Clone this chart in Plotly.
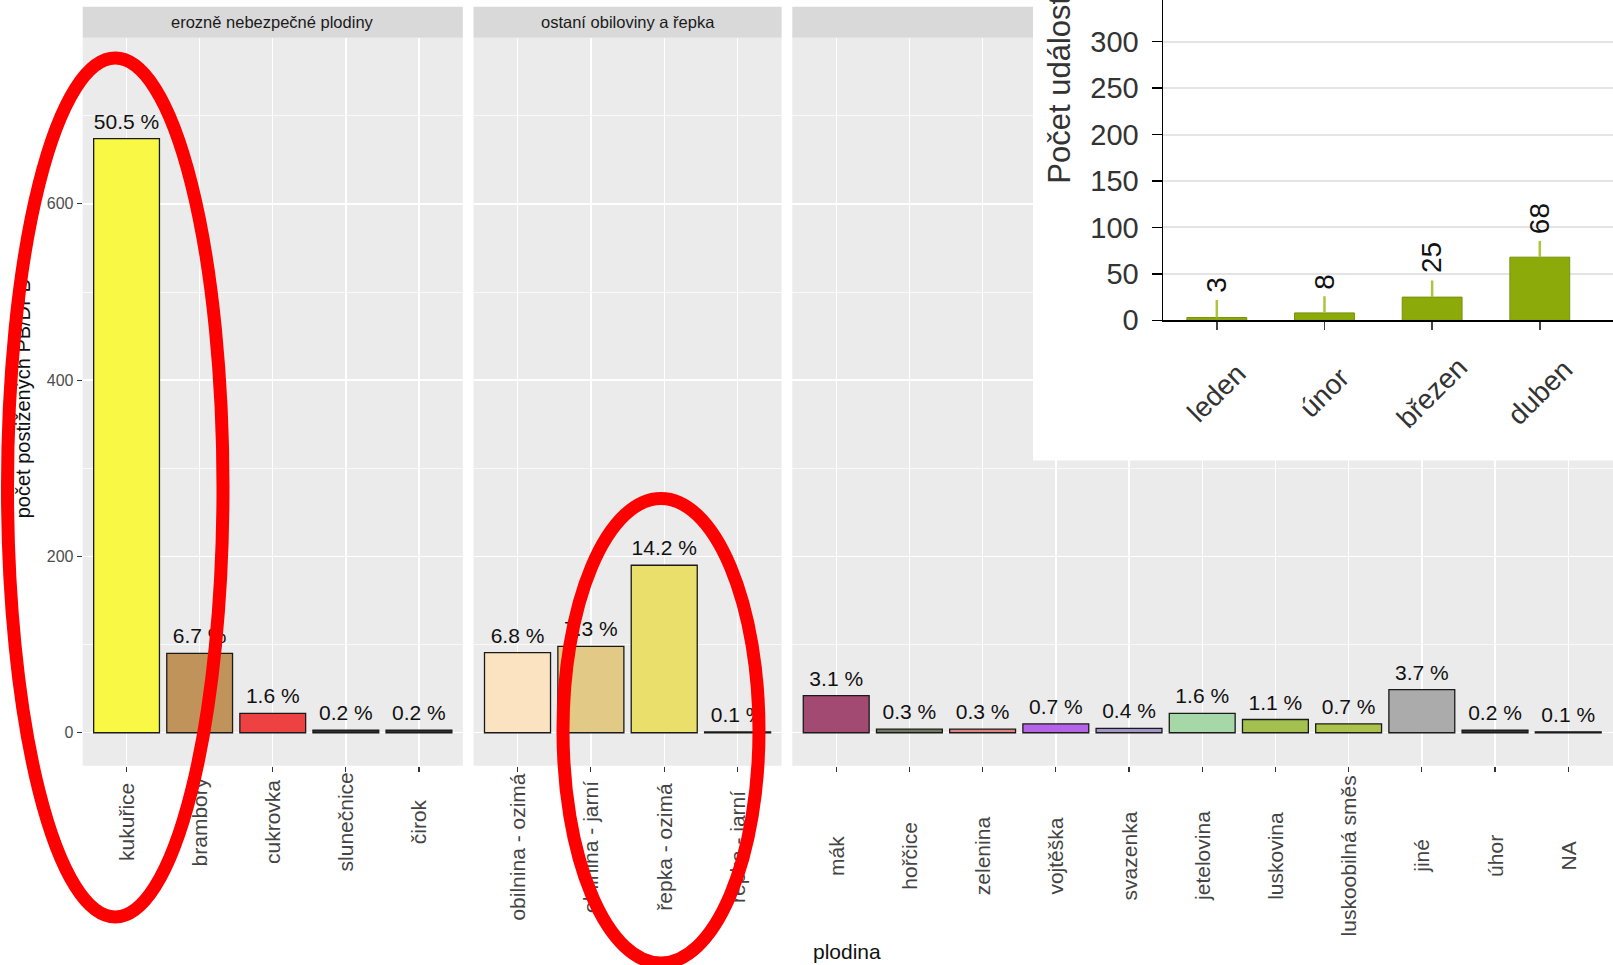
import plotly.graph_objects as go

W, H = 1613, 965          # reference picture size (pixels)
FIG_H = 982               # page capture height observed; all positions are paper fractions
FONT = "Liberation Sans, Arial, sans-serif"

# ---------------- data: main faceted chart ----------------
facet_titles = ["erozně nebezpečné plodiny", "ostaní obiloviny a řepka"]

p1_cats = ["kukuřice", "brambory", "cukrovka", "slunečnice", "čirok"]
p1_vals = [674, 90, 22, 3, 3]
p1_pct = ["50.5 %", "6.7 %", "1.6 %", "0.2 %", "0.2 %"]
p1_cols = ["#F9F845", "#BF935A", "#EE4242", "#2E2E2E", "#2E2E2E"]

p2_cats = ["obilnina - ozimá", "obilnina - jarní", "řepka - ozimá", "řepka - jarní"]
p2_vals = [91, 98, 190, 1]
p2_pct = ["6.8 %", "7.3 %", "14.2 %", "0.1 %"]
p2_cols = ["#FBE3C2", "#E2CA86", "#EADF6A", "#F0E68C"]

p3_cats = ["mák", "hořčice", "zelenina", "vojtěška", "svazenka", "jetelovina",
           "luskovina", "luskoobilná směs", "jiné", "úhor", "NA"]
p3_vals = [42, 4, 4, 10, 5, 22, 15, 10, 49, 3, 1]
p3_pct = ["3.1 %", "0.3 %", "0.3 %", "0.7 %", "0.4 %", "1.6 %",
          "1.1 %", "0.7 %", "3.7 %", "0.2 %", "0.1 %"]
p3_cols = ["#A34A72", "#6E7A5E", "#E08282", "#B563E8", "#A395C9", "#A5D8A6",
           "#A4C150", "#ADC24A", "#ABABAB", "#333333", "#555555"]

y_ticks = [0, 200, 400, 600]
y_title = "počet postižených PB/DPB"
x_title = "plodina"

# ---------------- data: inset chart ----------------
months = ["leden", "únor", "březen", "duben", "květen"]
month_counts = [3, 8, 25, 68]
month_err = [19, 18, 18, 17.5]
inset_title = "Počet událostí"
inset_ticks = [0, 50, 100, 150, 200, 250, 300, 350]


def px(x):
    return x / W


def py(y):
    return 1 - y / H


# main panel geometry (reference pixels)
PANEL_TOP, PANEL_BOT = 37.7, 765.0
STRIP_TOP = 6.7
Y_RANGE = [-37.5, 788.5]
panels_x = [(82.7, 462.8), (473.5, 781.6), (792.3, 1613.0)]
unit = 73.2


def py_to_val(p):
    return Y_RANGE[0] + (PANEL_BOT - p) / (PANEL_BOT - PANEL_TOP) * (Y_RANGE[1] - Y_RANGE[0])


panels = [
    dict(cats=p1_cats, vals=p1_vals, pct=p1_pct, cols=p1_cols, xa="x", lab_c=821),
    dict(cats=p2_cats, vals=p2_vals, pct=p2_pct, cols=p2_cols, xa="x2", lab_c=846),
    dict(cats=p3_cats, vals=p3_vals, pct=p3_pct, cols=p3_cols, xa="x3", lab_c=855),
]

fig = go.Figure()
LBL_H = 250
for p in panels:
    n = len(p["cats"])
    fig.add_trace(go.Bar(
        x=p["cats"], y=p["vals"],
        marker=dict(color=p["cols"], line=dict(color="#1a1a1a", width=1.3)),
        width=0.9, xaxis=p["xa"], yaxis="y", hoverinfo="skip", showlegend=False))
    # percentage labels above bars
    fig.add_trace(go.Scatter(
        x=p["cats"], y=p["vals"], text=p["pct"], mode="markers+text",
        textposition="top center", cliponaxis=False,
        marker=dict(size=6, opacity=0),
        textfont=dict(size=21, color="#111111", family=FONT),
        xaxis=p["xa"], yaxis="y", hoverinfo="skip", showlegend=False))
    # category labels (centred vertical text under each panel)
    c = py_to_val(p["lab_c"])
    fig.add_trace(go.Bar(
        x=p["cats"], y=[LBL_H] * n, base=[c - LBL_H / 2] * n, text=p["cats"],
        textposition="inside", insidetextanchor="middle", textangle=-90,
        constraintext="none", cliponaxis=False,
        insidetextfont=dict(size=21, color="#444444", family=FONT),
        marker=dict(color="rgba(0,0,0,0)", line=dict(width=0)),
        width=0.9, xaxis=p["xa"], yaxis="y", hoverinfo="skip", showlegend=False))

# dummy trace for the y-title axis
fig.add_trace(go.Scatter(x=[p1_cats[0]], y=[0], xaxis="x", yaxis="y5", mode="markers",
                         marker=dict(opacity=0, size=1), hoverinfo="skip", showlegend=False))

# inset bars
fig.add_trace(go.Bar(
    x=months[:len(month_counts)], y=month_counts, width=0.556,
    marker=dict(color="#8DAA0B", line=dict(color="#76920A", width=1)),
    error_y=dict(type="data", array=month_err, arrayminus=[0] * len(month_err),
                 symmetric=False, color="#A9C63C", thickness=2.5, width=0),
    xaxis="x4", yaxis="y4", hoverinfo="skip", showlegend=False))

xcommon = dict(type="category", showgrid=True, gridcolor="white", gridwidth=1.4,
               zeroline=False, showline=False, ticks="outside", ticklen=5,
               tickwidth=1.2, tickcolor="#333333", showticklabels=False,
               anchor="y", fixedrange=True)

layout = dict(
    width=W, height=FIG_H, margin=dict(l=0, r=0, t=0, b=0),
    paper_bgcolor="white", plot_bgcolor="white", barmode="overlay",
    font=dict(family=FONT),
    xaxis=dict(xcommon, domain=[px(panels_x[0][0]), px(panels_x[0][1])],
               categoryarray=p1_cats, categoryorder="array",
               range=[-0.6, len(p1_cats) - 0.4]),
    xaxis2=dict(xcommon, domain=[px(panels_x[1][0]), px(panels_x[1][1])],
                categoryarray=p2_cats, categoryorder="array",
                range=[-0.6, len(p2_cats) - 0.4]),
    xaxis3=dict(xcommon, domain=[px(panels_x[2][0]), px(panels_x[2][1])],
                categoryarray=p3_cats, categoryorder="array",
                range=[-0.6, -0.6 + (panels_x[2][1] - panels_x[2][0]) / unit]),
    yaxis=dict(domain=[py(PANEL_BOT), py(PANEL_TOP)], range=Y_RANGE,
               tickvals=y_ticks, showgrid=True, gridcolor="white", gridwidth=1.4,
               minor=dict(dtick=100, tick0=0, showgrid=True, gridcolor="white",
                          gridwidth=0.7),
               zeroline=False, showline=False, ticks="outside", ticklen=5,
               tickwidth=1.2, tickcolor="#333333",
               tickfont=dict(size=16, color="#4D4D4D", family=FONT),
               anchor="x", fixedrange=True),
    yaxis5=dict(overlaying="y", anchor="free", position=px(34), side="left",
                range=Y_RANGE, tickmode="array",
                tickvals=[py_to_val((PANEL_TOP + PANEL_BOT) / 2)],
                ticktext=[y_title], tickangle=-90, showgrid=False, zeroline=False,
                showline=False, ticks="",
                tickfont=dict(size=20, color="#111111", family=FONT),
                fixedrange=True),
    xaxis4=dict(type="category", categoryarray=months, categoryorder="array",
                domain=[px(1163), 1], range=[-0.5, 3.68], anchor="y4",
                showgrid=False, zeroline=False, showline=True, linecolor="black",
                linewidth=1.5, ticks="outside", ticklen=8, tickwidth=1.5,
                tickcolor="#444444", showticklabels=False, fixedrange=True),
    yaxis4=dict(domain=[py(320), 1], range=[0, 344.8], anchor="x4",
                tickvals=inset_ticks, showgrid=True, gridcolor="#E4E4E4", gridwidth=2,
                zeroline=False, showline=True, linecolor="black", linewidth=1.5,
                ticks="outside", ticklen=10, tickwidth=1.5, tickcolor="black",
                ticklabelstandoff=7,
                tickfont=dict(size=29, color="#333333", family=FONT), fixedrange=True),
)

shapes = []
for (x0, x1) in panels_x:
    shapes.append(dict(type="rect", xref="paper", yref="paper", x0=px(x0), x1=px(x1),
                       y0=py(PANEL_BOT), y1=py(PANEL_TOP), fillcolor="#EBEBEB",
                       line=dict(width=0), layer="below"))
for (x0, x1) in panels_x:
    shapes.append(dict(type="rect", xref="paper", yref="paper", x0=px(x0), x1=px(x1),
                       y0=py(PANEL_TOP), y1=py(STRIP_TOP), fillcolor="#D9D9D9",
                       line=dict(width=0), layer="below"))
# inset white box
shapes.append(dict(type="rect", xref="paper", yref="paper", x0=px(1033), x1=1,
                   y0=py(460), y1=1, fillcolor="white", line=dict(width=0), layer="below"))
# red highlight ellipses
for (x0, x1, y0, y1) in [(7.5, 223, 58, 916), (563, 759, 498, 962)]:
    shapes.append(dict(type="circle", xref="paper", yref="paper", x0=px(x0), x1=px(x1),
                       y0=py(y1), y1=py(y0), line=dict(color="#FF0000", width=13),
                       fillcolor="rgba(0,0,0,0)", layer="above"))
layout["shapes"] = shapes

ann = []
for (x0, x1), t in zip(panels_x[:2], facet_titles):
    ann.append(dict(text=t, xref="paper", yref="paper", x=px((x0 + x1) / 2),
                    y=py((STRIP_TOP + PANEL_TOP) / 2), xanchor="center", yanchor="middle",
                    showarrow=False, font=dict(size=16.5, color="#1A1A1A", family=FONT)))
ann.append(dict(text=x_title, xref="paper", yref="paper", x=px(847), y=py(951),
                xanchor="center", yanchor="middle", showarrow=False,
                font=dict(size=21, color="#111111", family=FONT)))
# inset texts
for i, m in enumerate(months):
    ann.append(dict(text=m, xref="x4", yref="paper", x=i, y=py(392), textangle=-45,
                    xanchor="center", yanchor="middle", showarrow=False,
                    font=dict(size=28, color="#333333", family=FONT)))
for m, v, e in zip(months, month_counts, month_err):
    ann.append(dict(text=str(v), xref="x4", yref="y4", x=m, y=v + e, textangle=-90,
                    xanchor="center", yanchor="bottom", yshift=5, showarrow=False,
                    font=dict(size=28, color="#111111", family=FONT)))
ann.append(dict(text=inset_title, xref="paper", yref="paper", x=px(1060), y=py(186),
                textangle=-90, xanchor="center", yanchor="bottom", showarrow=False,
                font=dict(size=31, color="#333333", family=FONT)))
ann.append(dict(text=str(inset_ticks[-1]), xref="paper", yref="y4", x=px(1141),
                y=inset_ticks[-1], xanchor="right", yanchor="middle", showarrow=False,
                font=dict(size=29, color="#333333", family=FONT)))
layout["annotations"] = ann

fig.update_layout(**layout)
fig.write_html(
    "out.html",
    config=dict(displayModeBar=False, staticPlot=True),
    post_script="document.body.style.margin='0';document.body.style.padding='0';"
                "document.body.style.overflow='hidden';"
                "document.documentElement.style.overflow='hidden';",
)
